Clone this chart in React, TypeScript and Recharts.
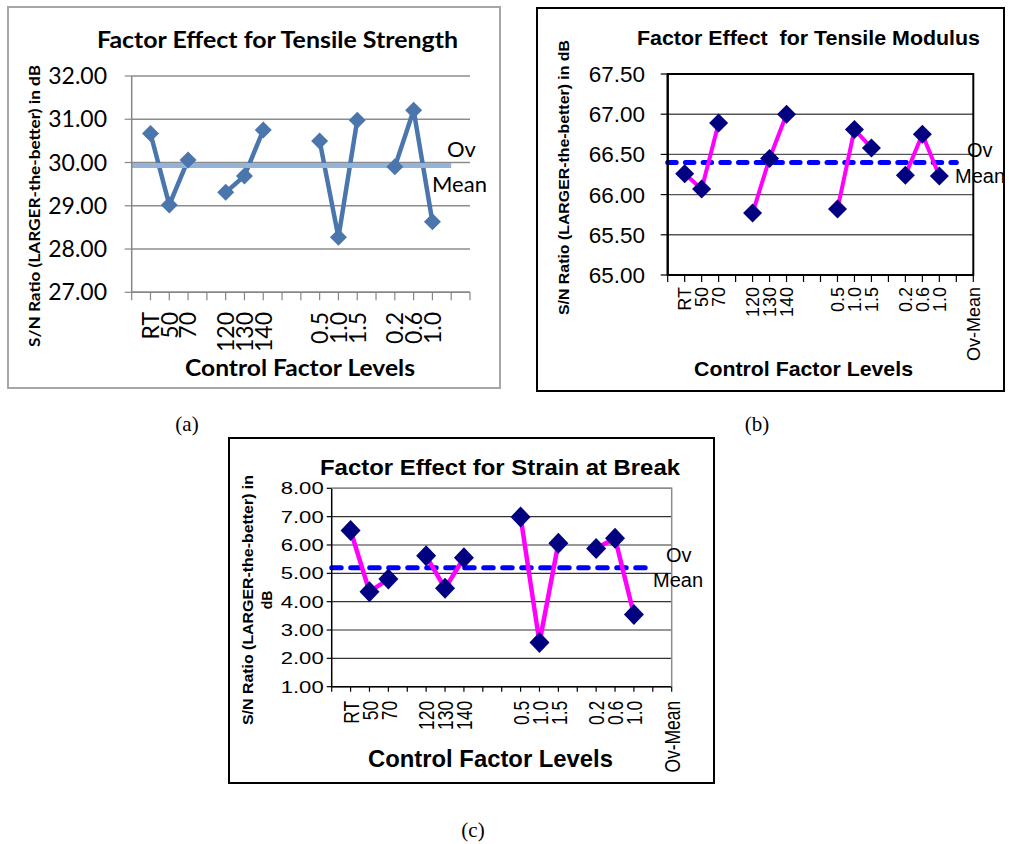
import React from "react";
import { CartesianGrid, Line, LineChart, XAxis, YAxis } from "recharts";

// x slots: markers sit on the tick marks, empty strings are the gaps between factors
const strengthLevels = ["", "RT", "50", "70", "", "120", "130", "140", "", "", "0.5", "1.0", "1.5", "", "0.2", "0.6", "1.0", "", ""];
const levelsWithMean = ["", "RT", "50", "70", "", "120", "130", "140", "", "", "0.5", "1.0", "1.5", "", "0.2", "0.6", "1.0", "", "Ov-Mean"];

const strengthValues = [null, 30.67, 29.02, 30.06, null, 29.31, 29.69, 30.75, null, null, 30.5, 28.27, 30.98, null, 29.9, 31.21, 28.63, null, null];
const strengthMean = 29.93;
const strengthTicks = [27, 28, 29, 30, 31, 32];

const modulusValues = [null, 66.26, 66.07, 66.89, null, 65.77, 66.45, 67.0, null, null, 65.82, 66.81, 66.58, null, 66.24, 66.75, 66.23, null, null];
const modulusMean = 66.4;
const modulusTicks = [65, 65.5, 66, 66.5, 67, 67.5];

const strainValues = [null, 6.51, 4.35, 4.8, null, 5.62, 4.47, 5.55, null, null, 6.99, 2.56, 6.06, null, 5.88, 6.24, 3.55, null, null];
const strainMean = 5.2;
const strainTicks = [1, 2, 3, 4, 5, 6, 7, 8];

const meanLastIndex = 17;

const CALIBRI = "Lato, 'Open Sans', sans-serif";
const ARIAL = "'Liberation Sans', Arial, sans-serif";

const buildRows = (values: (number | null)[], mean: number) =>
  values.map((v, i) => ({ i, v, mean: i <= meanLastIndex ? mean : null }));

const diamond = (rx: number, ry: number, fill: string) => (p: any) => {
  const key = `d-${p.index}`;
  if (p.cx == null || p.cy == null || p.value == null) return <g key={key} />;
  const { cx, cy } = p;
  return (
    <polygon
      key={key}
      points={`${cx},${cy - ry} ${cx + rx},${cy} ${cx},${cy + ry} ${cx - rx},${cy}`}
      fill={fill}
    />
  );
};

type Spec = any;

function FactorChart({ s }: { s: Spec }) {
  const { box, plot } = s;
  const YW = 60;
  const XH = 80;
  const margin = {
    left: plot.l - box.x - YW,
    top: plot.t - box.y,
    right: box.x + box.w - plot.r,
    bottom: box.y + box.h - plot.b - XH,
  };
  const rows = buildRows(s.values, s.mean);
  const xTicks = s.labels.map((_: string, i: number) => i);
  const pl = plot.l - box.x;
  const pr = plot.r - box.x;
  const pt = plot.t - box.y;
  const pb = plot.b - box.y;

  const yTick = (p: any) => (
    <text
      key={`y-${p.index}`}
      transform={`translate(${p.x},${p.y}) scale(${s.sx},1)`}
      textAnchor="end"
      dy="0.355em"
      fontFamily={s.font}
      fontSize={s.yTickFont}
      fill="#000"
    >
      {Number(p.payload.value).toFixed(2)}
    </text>
  );
  const xTick = (p: any) => (
    <text
      key={`x-${p.index}`}
      transform={`translate(${p.x},${p.y}) scale(${s.sx},1) rotate(-90)`}
      textAnchor="end"
      dy="0.36em"
      fontFamily={s.font}
      fontSize={s.xTickFont}
      fill="#000"
    >
      {s.labels[p.payload.value]}
    </text>
  );

  const meanLine = (
    <Line
      key="mean"
      dataKey="mean"
      stroke={s.meanColor}
      strokeWidth={s.meanWidth}
      strokeDasharray={s.meanDash}
      strokeLinecap={s.meanDash ? "round" : "butt"}
      dot={false}
      activeDot={false}
      isAnimationActive={false}
    />
  );

  return (
    <div style={{ position: "absolute", left: box.x, top: box.y, width: box.w, height: box.h }}>
      <LineChart width={box.w} height={box.h} data={rows} margin={margin}>
        <CartesianGrid vertical={false} stroke={s.gridColor} strokeWidth={s.gridWidth} />
        <XAxis
          dataKey="i"
          type="number"
          domain={[0, s.labels.length - 1]}
          ticks={xTicks}
          interval={0}
          height={XH}
          tick={xTick}
          tickSize={s.xTickSize}
          tickMargin={s.xTickGap}
          axisLine={{ stroke: s.axisColor, strokeWidth: s.axisWidth }}
          tickLine={{ stroke: s.axisColor, strokeWidth: 1.2 }}
        />
        <YAxis
          type="number"
          domain={s.yDomain}
          ticks={s.yTicks}
          interval={0}
          width={YW}
          tick={yTick}
          tickSize={s.yTickSize}
          tickMargin={s.yTickGap}
          axisLine={{ stroke: s.axisColor, strokeWidth: s.axisWidth }}
          tickLine={{ stroke: s.axisColor, strokeWidth: 1.2 }}
        />
        {!s.meanOnTop && meanLine}
        <Line
          dataKey="v"
          stroke={s.lineColor}
          strokeWidth={s.lineWidth}
          dot={false}
          activeDot={false}
          isAnimationActive={false}
        />
        <Line
          dataKey="v"
          stroke="none"
          dot={diamond(s.rx, s.ry, s.markerColor)}
          activeDot={false}
          isAnimationActive={false}
        />
        {s.meanOnTop && meanLine}
      </LineChart>
      <svg
        width={box.w}
        height={box.h}
        style={{ position: "absolute", left: 0, top: 0, overflow: "visible", pointerEvents: "none" }}
      >
        <rect x={1} y={1} width={box.w - 2} height={box.h - 2} fill="none" stroke={s.frameColor} strokeWidth={2} />
        {s.plotFrame === "full" && (
          <rect x={pl} y={pt} width={pr - pl} height={pb - pt} fill="none" stroke="#000" strokeWidth={2} />
        )}
        {s.plotFrame === "topRight" && (
          <polyline points={`${pl},${pt} ${pr},${pt} ${pr},${pb}`} fill="none" stroke="#8c8c8c" strokeWidth={1.5} />
        )}
        <text
          x={s.title.x}
          y={s.title.y}
          textLength={s.title.len}
          lengthAdjust="spacingAndGlyphs"
          fontFamily={s.font}
          fontWeight="bold"
          fontSize={s.title.size}
          style={{ whiteSpace: "pre" }}
        >
          {s.title.text}
        </text>
        <text
          x={s.xTitle.x}
          y={s.xTitle.y}
          textLength={s.xTitle.len}
          lengthAdjust="spacingAndGlyphs"
          fontFamily={s.font}
          fontWeight="bold"
          fontSize={s.xTitle.size}
        >
          Control Factor Levels
        </text>
        {s.yTitle.map((t: any, k: number) => (
          <text
            key={k}
            transform={`translate(${t.cx},${t.cy}) rotate(-90)`}
            textAnchor="middle"
            dy="0.36em"
            textLength={t.len}
            lengthAdjust="spacingAndGlyphs"
            fontFamily={s.font}
            fontWeight="bold"
            fontSize={t.size}
          >
            {t.text}
          </text>
        ))}
        <text x={s.ov.x} y={s.ov.y} fontFamily={s.font} fontSize={s.ovSize}>
          Ov
        </text>
        <text x={s.meanLabel.x} y={s.meanLabel.y} fontFamily={s.font} fontSize={s.ovSize}>
          Mean
        </text>
      </svg>
    </div>
  );
}

const specA: Spec = {
  box: { x: 7, y: 6, w: 494, h: 383 },
  plot: { l: 131.7, t: 76, r: 470, b: 292.3 },
  labels: strengthLevels,
  values: strengthValues,
  mean: strengthMean,
  yDomain: [27, 32],
  yTicks: strengthTicks,
  font: CALIBRI,
  yTickFont: 23,
  xTickFont: 23,
  sx: 1,
  yTickSize: 7,
  yTickGap: 17.7,
  xTickSize: 8,
  xTickGap: 11.7,
  axisColor: "#868686",
  axisWidth: 1.5,
  gridColor: "#8c8c8c",
  gridWidth: 1.5,
  lineColor: "#4a76ad",
  lineWidth: 4.5,
  markerColor: "#4a76ad",
  rx: 8.5,
  ry: 8.5,
  meanColor: "#95b3d7",
  meanWidth: 5,
  meanDash: undefined,
  meanOnTop: true,
  frameColor: "#a6a6a6",
  plotFrame: "none",
  title: { text: "Factor Effect for Tensile Strength", x: 90, y: 42, len: 361, size: 22 },
  xTitle: { x: 178, y: 370, len: 230, size: 23 },
  yTitle: [{ text: "S/N Ratio (LARGER-the-better) in dB", cx: 27, cy: 200, len: 282, size: 16 }],
  ov: { x: 440, y: 151 },
  meanLabel: { x: 425, y: 186 },
  ovSize: 22,
};

const specB: Spec = {
  box: { x: 536, y: 7, w: 469, h: 385 },
  plot: { l: 667.7, t: 74, r: 973.3, b: 275 },
  labels: levelsWithMean,
  values: modulusValues,
  mean: modulusMean,
  yDomain: [65, 67.5],
  yTicks: modulusTicks,
  font: ARIAL,
  yTickFont: 22.5,
  xTickFont: 18,
  sx: 1,
  yTickSize: 7,
  yTickGap: 15.7,
  xTickSize: 7,
  xTickGap: 5,
  axisColor: "#000",
  axisWidth: 2,
  gridColor: "#555",
  gridWidth: 1.4,
  lineColor: "#ff00ff",
  lineWidth: 4,
  markerColor: "#000080",
  rx: 9.5,
  ry: 9.5,
  meanColor: "#0000ff",
  meanWidth: 5,
  meanDash: "8.5 9.2",
  meanOnTop: false,
  frameColor: "#000",
  plotFrame: "full",
  title: { text: "Factor Effect  for Tensile Modulus", x: 101, y: 38, len: 343, size: 20 },
  xTitle: { x: 158, y: 368.7, len: 219, size: 21 },
  yTitle: [{ text: "S/N Ratio (LARGER-the-better) in dB", cx: 28, cy: 170.5, len: 275, size: 15 }],
  ov: { x: 431, y: 150 },
  meanLabel: { x: 419, y: 176 },
  ovSize: 20,
};

const specC: Spec = {
  box: { x: 228, y: 437, w: 487, h: 347 },
  plot: { l: 331.7, t: 488.3, r: 671.7, b: 686.7 },
  labels: levelsWithMean,
  values: strainValues,
  mean: strainMean,
  yDomain: [1, 8],
  yTicks: strainTicks,
  font: ARIAL,
  yTickFont: 17,
  xTickFont: 17.5,
  sx: 1.3,
  yTickSize: 5,
  yTickGap: 3,
  xTickSize: 5,
  xTickGap: 9,
  axisColor: "#000",
  axisWidth: 1.5,
  gridColor: "#333",
  gridWidth: 1.2,
  lineColor: "#ff00ff",
  lineWidth: 4.5,
  markerColor: "#000080",
  rx: 10,
  ry: 10.5,
  meanColor: "#0000ff",
  meanWidth: 5,
  meanDash: "9.5 9.5",
  meanOnTop: false,
  frameColor: "#000",
  plotFrame: "topRight",
  title: { text: "Factor Effect for Strain at Break", x: 92, y: 38, len: 360, size: 22 },
  xTitle: { x: 140, y: 329.7, len: 245, size: 24 },
  yTitle: [
    { text: "S/N Ratio (LARGER-the-better) in", cx: 20, cy: 163, len: 250, size: 14 },
    { text: "dB", cx: 39, cy: 163, len: undefined, size: 14 },
  ],
  ov: { x: 438, y: 125 },
  meanLabel: { x: 425, y: 150 },
  ovSize: 20,
};

const captions = [
  { text: "(a)", x: 187, y: 431 },
  { text: "(b)", x: 757, y: 431 },
  { text: "(c)", x: 473, y: 837 },
];

export default function App() {
  return (
    <div style={{ position: "absolute", left: 0, top: 0, width: 1009, height: 844, background: "#fff" }}>
      <FactorChart s={specA} />
      <FactorChart s={specB} />
      <FactorChart s={specC} />
      <svg width={1009} height={844} style={{ position: "absolute", left: 0, top: 0, pointerEvents: "none" }}>
        {captions.map((c) => (
          <text
            key={c.text}
            x={c.x}
            y={c.y}
            textAnchor="middle"
            fontFamily="'Liberation Serif', 'Times New Roman', serif"
            fontSize={21}
          >
            {c.text}
          </text>
        ))}
      </svg>
    </div>
  );
}
